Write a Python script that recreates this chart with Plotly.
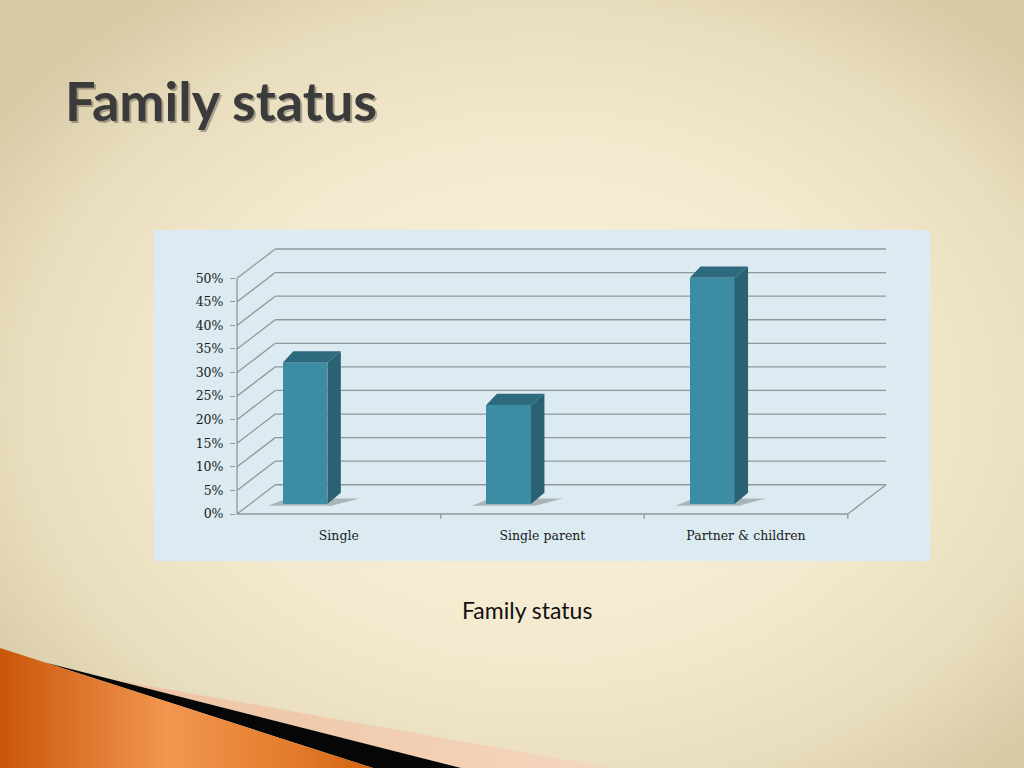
import base64
import plotly.graph_objects as go

# =====================
# DATA
# =====================
categories = ["Single", "Single parent", "Partner & children"]
values = [30, 21, 48]  # percent
y_ticks = [0, 5, 10, 15, 20, 25, 30, 35, 40, 45, 50]
y_ticktext = [f"{v}%" for v in y_ticks]

# =====================
# GEOMETRY (fake 3D, in axis units)
# =====================
W, H = 1024, 768
DX, DY = 0.188, 6.2            # depth of the floor / side wall
BAR_W, BAR_OFF = 0.22, -0.166  # front face width and shift from category centre
BAR_BASE = 2.1                 # bars stand a bit inside the floor
BAR_DX, BAR_DY = 0.066, 2.4    # bar depth

X0, X1 = -0.505, 2.5 + DX + 0.02
Y0, Y1 = -1.5, 50 + DY + 0.4
X_ZERO_PX, PX_PER_CAT = 237 + 0.5 * 203.6, 203.6
Y_ZERO_PX, PX_PER_PCT = 514, 4.715

x_dom = [(X_ZERO_PX + X0 * PX_PER_CAT) / W, (X_ZERO_PX + X1 * PX_PER_CAT) / W]
y_dom = [1 - (Y_ZERO_PX - Y0 * PX_PER_PCT) / H, 1 - (Y_ZERO_PX - Y1 * PX_PER_PCT) / H]

GRID = "#8d999e"
FRONT = "#3c8ca4"
SIDE = "#2a6173"
TOP = "#2e6a7d"

# =====================
# SLIDE BACKGROUND (gradient + corner decoration)
# =====================
bg_svg = """<svg xmlns="http://www.w3.org/2000/svg" width="1024" height="768" viewBox="0 0 1024 768">
<defs>
<radialGradient id="bg" cx="0.53" cy="0.52" r="0.64">
<stop offset="0" stop-color="#f9f1de"/><stop offset="0.5" stop-color="#f4eacf"/>
<stop offset="0.8" stop-color="#e8ddbe"/><stop offset="1" stop-color="#d8cba6"/>
</radialGradient>
<linearGradient id="org" x1="0" y1="0" x2="1" y2="0">
<stop offset="0" stop-color="#c9560a"/><stop offset="0.45" stop-color="#f29650"/>
<stop offset="0.8" stop-color="#e27a2a"/><stop offset="1" stop-color="#d2620f"/>
</linearGradient>
<linearGradient id="pch" x1="0" y1="0" x2="1" y2="0">
<stop offset="0" stop-color="#eec3a2"/><stop offset="1" stop-color="#f4d6bf"/>
</linearGradient>
</defs>
<rect width="1024" height="768" fill="url(#bg)"/>
<polygon points="110,679 612,768 461,768" fill="url(#pch)"/>
<polygon points="45,662.5 461,768 373,768" fill="#060606"/>
<polygon points="0,648 373,768 0,768" fill="url(#org)"/>
</svg>"""
bg_uri = "data:image/svg+xml;base64," + base64.b64encode(bg_svg.encode()).decode()

# =====================
# SHAPES: chart area, walls, gridlines, bar shadows
# =====================
shapes = [dict(type="rect", xref="paper", yref="paper", layer="below",
               x0=154 / W, x1=930 / W, y0=1 - 561 / H, y1=1 - 230 / H,
               fillcolor="#dcebf1", line=dict(width=0))]

def line(xa, ya, xb, yb, width=1.3):
    return dict(type="line", xref="x", yref="y", layer="below",
                x0=xa, y0=ya, x1=xb, y1=yb, line=dict(color=GRID, width=width))

for v in y_ticks:
    shapes.append(line(-0.5 + DX, v + DY, 2.5 + DX, v + DY))   # back wall
    shapes.append(line(-0.5, v, -0.5 + DX, v + DY))            # side wall
shapes.append(line(-0.5, 0, -0.5, 50))                         # front value axis
shapes.append(line(-0.5, 0, 2.5, 0))                           # floor front edge
shapes.append(line(2.5, 0, 2.5 + DX, DY))                      # floor right edge
for b in [0.5, 1.5, 2.5]:
    shapes.append(line(b, 0, b, -1.0))                         # category ticks

for i, v in enumerate(values):
    xl = i + BAR_OFF - BAR_W / 2
    xr = i + BAR_OFF + BAR_W / 2
    b = BAR_BASE
    path = (f"M {xl - 0.07} {b - 0.35} L {xr + 0.02} {b - 0.35} "
            f"L {xr + BAR_DX + 0.09} {b + BAR_DY * 0.5} L {xl + 0.02} {b + BAR_DY * 0.5} Z")
    shapes.append(dict(type="path", xref="x", yref="y", layer="below", path=path,
                       fillcolor="rgba(45,55,60,0.3)", line=dict(width=0)))

# =====================
# BARS
# =====================
fig = go.Figure()
fig.add_trace(go.Bar(
    x=[i + BAR_OFF for i in range(len(values))], y=values, base=BAR_BASE, width=BAR_W,
    marker=dict(color=FRONT, line=dict(width=0)), hoverinfo="skip", showlegend=False,
))

side_x, side_y, top_x, top_y = [], [], [], []
for i, v in enumerate(values):
    xl = i + BAR_OFF - BAR_W / 2
    xr = i + BAR_OFF + BAR_W / 2
    b, t = BAR_BASE, BAR_BASE + v
    side_x += [xr, xr + BAR_DX, xr + BAR_DX, xr, xr, None]
    side_y += [b, b + BAR_DY, t + BAR_DY, t, b, None]
    top_x += [xl, xr, xr + BAR_DX, xl + BAR_DX * 0.8, xl, None]
    top_y += [t, t, t + BAR_DY, t + BAR_DY, t, None]

fig.add_trace(go.Scatter(x=side_x, y=side_y, mode="lines", fill="toself", fillcolor=SIDE,
                         line=dict(width=0, color=SIDE), hoverinfo="skip", showlegend=False))
fig.add_trace(go.Scatter(x=top_x, y=top_y, mode="lines", fill="toself", fillcolor=TOP,
                         line=dict(width=0, color=TOP), hoverinfo="skip", showlegend=False))

# =====================
# TEXT
# =====================
annotations = [
    dict(text="<b>Family status</b>", x=65 / W, y=1 - 102 / H, xref="paper", yref="paper",
         xanchor="left", yanchor="middle", showarrow=False,
         font=dict(family="Lato", size=54, color="rgba(0,0,0,0.28)")),
    dict(text="<b>Family status</b>", x=63 / W, y=1 - 100 / H, xref="paper", yref="paper",
         xanchor="left", yanchor="middle", showarrow=False,
         font=dict(family="Lato", size=54, color="#3b3b3b")),
    dict(text="Family status", x=527 / W, y=1 - 610 / H, xref="paper", yref="paper",
         xanchor="center", yanchor="middle", showarrow=False,
         font=dict(family="Lato", size=23, color="#111111")),
]

tick_font = dict(family="DejaVu Serif", size=12.5, color="#1a1a1a")

fig.update_layout(
    width=W, height=H,
    margin=dict(l=0, r=0, t=0, b=0),
    paper_bgcolor="#f1e7cd",
    plot_bgcolor="rgba(0,0,0,0)",
    images=[dict(source=bg_uri, xref="paper", yref="paper", x=0, y=1, sizex=1, sizey=1,
                 xanchor="left", yanchor="top", sizing="stretch", layer="below")],
    shapes=shapes,
    annotations=annotations,
    xaxis=dict(domain=x_dom, range=[X0, X1], tickvals=list(range(len(categories))),
               ticktext=categories, ticks="", showgrid=False, zeroline=False,
               showline=False, tickfont=tick_font, ticklabelstandoff=5, fixedrange=True),
    yaxis=dict(domain=y_dom, range=[Y0, Y1], tickvals=y_ticks, ticktext=y_ticktext,
               ticks="outside", ticklen=5, tickcolor=GRID, tickwidth=1.3,
               showgrid=False, zeroline=False, showline=False, tickfont=tick_font,
               ticklabelstandoff=4, fixedrange=True),
    bargap=0,
)

# the page body has a default 8px margin; drop it so the slide sits at 0,0
fig.write_html("out.html", config={"displayModeBar": False},
               post_script="document.body.style.margin='0';")
